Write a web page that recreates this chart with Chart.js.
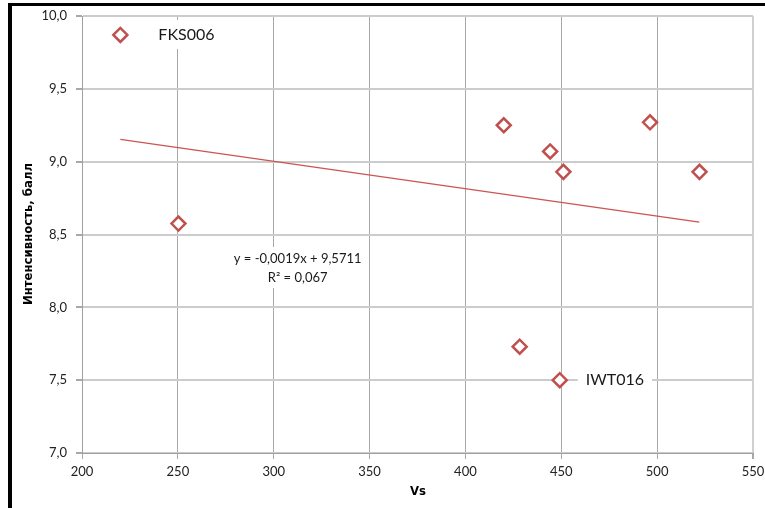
<!DOCTYPE html>
<html>
<head>
<meta charset="utf-8">
<script src="https://cdn.jsdelivr.net/npm/chart.js@4/dist/chart.umd.min.js"></script>
<style>
    body { margin: 0; background: #fff; }
    #wrap { position: relative; width: 765px; height: 508px; }
    #frame {
        position: absolute; left: 8px; top: 3px; right: 0; bottom: 0;
        border-left: 4px solid #000; border-top: 3px solid #000;
        pointer-events: none;
    }
</style>
</head>
<body>
<div id="wrap">
    <canvas id="scatterChart" width="765" height="508"></canvas>
    <div id="frame"></div>
</div>
<script>
// Intensity vs Vs scatter with linear trend

const vs = [220, 250.3, 420, 444.2, 451.1, 496.3, 522.1, 428.3, 449.2];
const intensity = [9.87, 8.575, 9.25, 9.07, 8.93, 9.27, 8.93, 7.73, 7.5];
const stationNames = ['FKS006', '', '', '', '', '', '', '', 'IWT016'];

// trend line ends, y = -0,0019x + 9,5711
const trendX = [220, 522];
const trendY = [9.153, 8.585];
const trendText = ['y = -0,0019x + 9,5711', 'R\u00B2 = 0,067'];

const xTicks = [200, 250, 300, 350, 400, 450, 500, 550];
const yTicks = [7.0, 7.5, 8.0, 8.5, 9.0, 9.5, 10.0];

const xTitle = 'Vs';
const yTitle = 'Интенсивность, балл';

const red = '#c0504d';
const tickFont = { family: 'Lato', size: 13 };

// white-box labels next to points and the equation
const labelPlugin = {
    id: 'labels',
    beforeDatasetsDraw(chart) {
        const ctx = chart.ctx;
        const xs = chart.scales.x;
        const ys = chart.scales.y;
        ctx.save();
        ctx.font = '16px Lato';
        ctx.textBaseline = 'middle';
        stationNames.forEach((name, i) => {
            if (!name) return;
            const px = xs.getPixelForValue(vs[i]);
            const py = ys.getPixelForValue(intensity[i]);
            const off = i === 0 ? 38 : 26;
            const w = ctx.measureText(name).width;
            ctx.fillStyle = '#fff';
            ctx.fillRect(px + off - 8, py - 15, w + 16, 29);
            ctx.fillStyle = '#1a1a1a';
            ctx.fillText(name, px + off, py);
        });

        // equation box
        const ex = xs.getPixelForValue(312.5);
        const ey = ys.getPixelForValue(8.27);
        ctx.font = '13px Lato';
        ctx.textAlign = 'center';
        const w = Math.max(...trendText.map(t => ctx.measureText(t).width));
        ctx.fillStyle = '#fff';
        ctx.fillRect(ex - w / 2 - 6, ey - 21, w + 12, 41);
        ctx.fillStyle = '#1a1a1a';
        ctx.fillText(trendText[0], ex, ey - 9);
        ctx.fillText(trendText[1], ex, ey + 10);
        ctx.restore();
    },
    afterDraw(chart) {
        const ctx = chart.ctx;
        ctx.save();
        ctx.fillStyle = '#000';
        ctx.font = 'bold 13px "Liberation Sans Narrow", "DejaVu Sans Condensed", sans-serif';
        ctx.textAlign = 'center';
        ctx.textBaseline = 'middle';
        ctx.fillText(xTitle, 418, 492);
        ctx.translate(29, 234);
        ctx.rotate(-Math.PI / 2);
        ctx.fillText(yTitle, 0, 0);
        ctx.restore();
    }
};

const ctx = document.getElementById('scatterChart').getContext('2d');

const scatterChart = new Chart(ctx, {
    type: 'scatter',
    data: {
        datasets: [{
            label: 'Интенсивность',
            data: vs.map((x, i) => ({ x: x, y: intensity[i] })),
            pointStyle: 'rectRot',
            pointRadius: 7,
            pointHoverRadius: 7,
            pointBorderWidth: 2.5,
            pointBorderColor: red,
            pointBackgroundColor: '#fff',
            showLine: false,
            order: 1
        }, {
            label: 'Тренд',
            data: trendX.map((x, i) => ({ x: x, y: trendY[i] })),
            showLine: true,
            borderColor: '#cc5550',
            borderWidth: 1.5,
            pointRadius: 0,
            fill: false,
            order: 2
        }]
    },
    options: {
        responsive: false,
        animation: false,
        layout: {
            padding: { left: 12, top: 16, right: 12, bottom: 0 }
        },
        plugins: {
            legend: { display: false },
            tooltip: { enabled: false }
        },
        scales: {
            x: {
                type: 'linear',
                min: 200,
                max: 550,
                afterBuildTicks: (scale) => {
                    scale.ticks = xTicks.map(v => ({ value: v }));
                },
                afterFit: (scale) => {
                    scale.height = 55;
                    scale.paddingLeft = 0;
                    scale.paddingRight = 0;
                },
                ticks: {
                    font: tickFont,
                    color: '#222',
                    padding: 5,
                    maxRotation: 0
                },
                grid: {
                    color: (c) => c.index === xTicks.length - 1 ? '#d0d0d0' : '#a8a8a8',
                    lineWidth: (c) => c.index === xTicks.length - 1 ? 2 : 1,
                    tickColor: '#a8a8a8',
                    tickLength: 6
                },
                border: { display: true, color: '#a0a0a0', width: 1 }
            },
            y: {
                type: 'linear',
                min: 7,
                max: 10,
                afterBuildTicks: (scale) => {
                    scale.ticks = yTicks.map(v => ({ value: v }));
                },
                afterFit: (scale) => {
                    scale.width = 70;
                    scale.paddingTop = 0;
                    scale.paddingBottom = 0;
                },
                ticks: {
                    font: tickFont,
                    color: '#222',
                    padding: 9,
                    callback: (v) => v.toFixed(1).replace('.', ',')
                },
                grid: {
                    color: '#cccccc',
                    lineWidth: 2,
                    tickColor: '#a8a8a8',
                    tickLength: 6
                },
                border: { display: true, color: '#a0a0a0', width: 1 }
            }
        }
    },
    plugins: [labelPlugin]
});
</script>
</body>
</html>
